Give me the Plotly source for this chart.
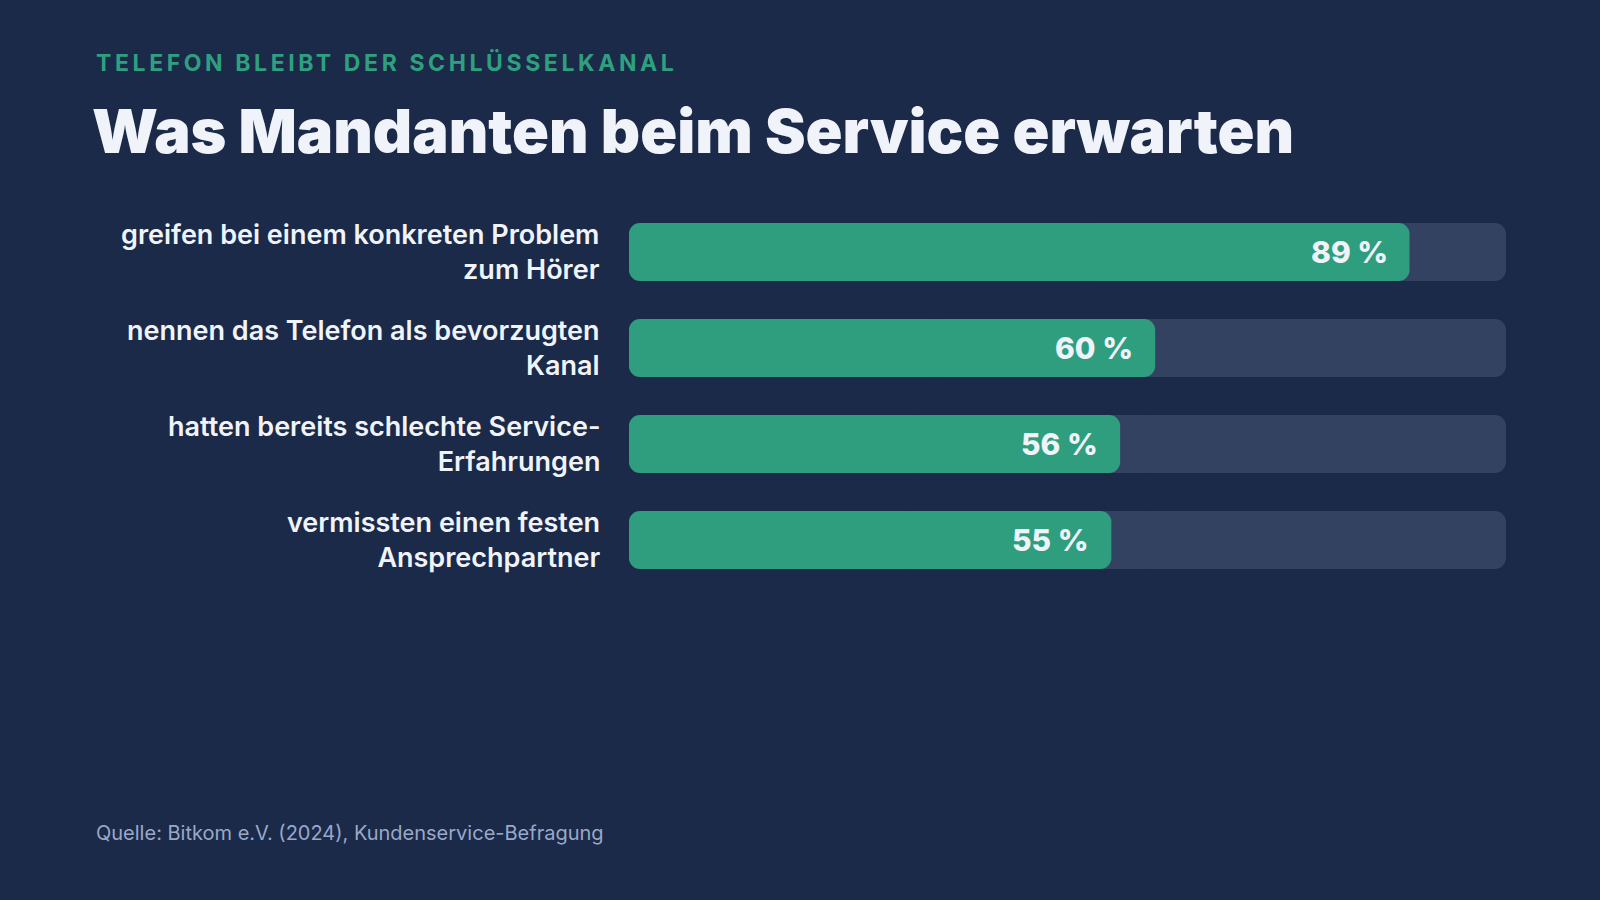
import plotly.graph_objects as go

categories = [
    "greifen bei einem konkreten Problem<br>zum Hörer",
    "nennen das Telefon als bevorzugten<br>Kanal",
    "hatten bereits schlechte Service-<br>Erfahrungen",
    "vermissten einen festen<br>Ansprechpartner",
]
values = [89, 60, 56, 55]
value_labels = ["89 %", "60 %", "56 %", "55 %"]
track_max = 100

kicker = "TELEFON BLEIBT DER SCHLÜSSELKANAL"
title = "Was Mandanten beim Service erwarten"
source = "Quelle: Bitkom e.V. (2024), Kundenservice-Befragung"

BG = "#1B2A49"
GREEN = "#2E9E7E"
TRACK = "#344262"
WHITE = "#F0F4FA"
MUTED = "#9AA8C8"

ypos = list(range(len(categories)))
BAR_W = 58 / 96


def rounded_bar(fig, lengths, color):
    """Draw a bar from 0 to each length with both ends rounded: two
    overlapping pieces, each rounded at its outer end."""
    fig.add_trace(go.Bar(
        base=[l * 0.4 for l in lengths], x=[l * 0.6 for l in lengths], y=ypos,
        orientation="h", marker=dict(color=color, line=dict(width=0)),
        width=BAR_W, hoverinfo="skip", showlegend=False,
    ))
    fig.add_trace(go.Bar(
        base=[l * 0.6 for l in lengths], x=[-l * 0.6 for l in lengths], y=ypos,
        orientation="h", marker=dict(color=color, line=dict(width=0)),
        width=BAR_W, hoverinfo="skip", showlegend=False,
    ))


fig = go.Figure()
rounded_bar(fig, [track_max] * len(categories), TRACK)
rounded_bar(fig, values, GREEN)

annotations = []
for yi, lab in zip(ypos, categories):
    annotations.append(dict(
        x=0, xref="paper", y=yi, yref="y", text=lab, showarrow=False,
        xanchor="right", yanchor="middle", align="right", xshift=-27,
        font=dict(family="Inter", size=27, color=WHITE, weight=600),
    ))
for yi, v, t in zip(ypos, values, value_labels):
    annotations.append(dict(
        x=v, xref="x", y=yi, yref="y", text=t, showarrow=False,
        xanchor="right", yanchor="middle", xshift=-20,
        font=dict(family="Inter", size=30, color=WHITE, weight=800),
    ))

annotations += [
    dict(x=94, y=63, xref="paper", yref="paper",
         text='<span style="letter-spacing:3.6px">' + kicker + '</span>',
         showarrow=False, xanchor="left", yanchor="middle",
         font=dict(family="Inter", size=23, color="#2FA07F", weight=700)),
    dict(x=90, y=131, xref="paper", yref="paper", text=title, showarrow=False,
         xanchor="left", yanchor="middle",
         font=dict(family="Inter", size=61, color=WHITE, weight=900)),
    dict(x=94, y=833, xref="paper", yref="paper", text=source, showarrow=False,
         xanchor="left", yanchor="middle",
         font=dict(family="Inter", size=20, color=MUTED, weight=400)),
]

# convert pixel-based header/footer positions into paper coordinates
L, R, T, B = 629, 94, 204, 312
W, H = 1600, 900
pw, ph = W - L - R, H - T - B
for a in annotations:
    if a.get("xref") == "paper" and a["x"] != 0:
        a["x"] = (a["x"] - L) / pw
    if a.get("yref") == "paper":
        a["y"] = (H - B - a["y"]) / ph

fig.update_layout(
    width=W, height=H,
    margin=dict(l=L, r=R, t=T, b=B, pad=0),
    paper_bgcolor=BG, plot_bgcolor=BG,
    barmode="overlay", barcornerradius=11,
    xaxis=dict(range=[0, track_max], visible=False, fixedrange=True),
    yaxis=dict(range=[len(categories) - 0.5, -0.5], visible=False, fixedrange=True),
    annotations=annotations,
    showlegend=False,
)

fig.write_html("out.html", config={"displayModeBar": False})
